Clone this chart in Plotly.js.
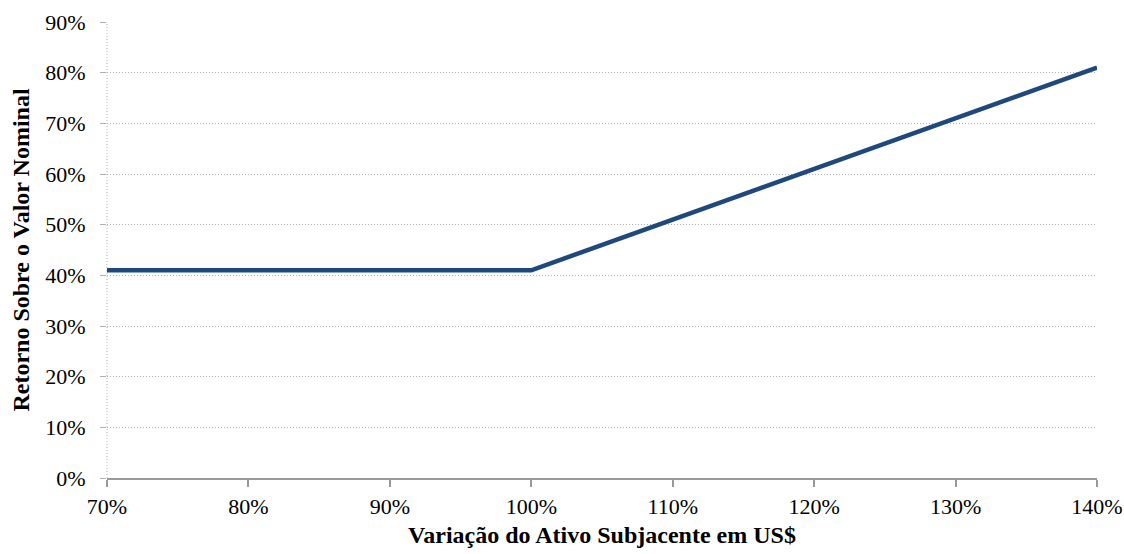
<!DOCTYPE html>
<html>
<head>
<meta charset="utf-8">
<script src="https://cdn.plot.ly/plotly-3.0.1.min.js"></script>
<style>html,body{margin:0;padding:0;background:#fff;}#chart{width:1124px;height:554px;}</style>
</head>
<body>
<div id="chart"></div>
<script>
const underlying = [0.70, 0.80, 0.90, 1.00, 1.10, 1.20, 1.30, 1.40];
const returns = [0.41, 0.41, 0.41, 0.41, 0.51, 0.61, 0.71, 0.81];
const xTitle = "Variação do Ativo Subjacente em US$";
const yTitle = "Retorno Sobre o Valor Nominal";

const font = "Liberation Serif, Times New Roman, serif";
Plotly.newPlot('chart', [{
  x: underlying, y: returns, type: 'scatter', mode: 'lines',
  line: {color: '#1F497D', width: 4.5},
  hoverinfo: 'skip'
}], {
  width: 1124, height: 554,
  margin: {l: 107, r: 27, t: 22, b: 76},
  paper_bgcolor: '#fff', plot_bgcolor: '#fff',
  showlegend: false,
  font: {family: font, color: '#000', size: 22},
  xaxis: {
    range: [0.70, 1.40], dtick: 0.10, tick0: 0.70, tickformat: '.0%',
    showgrid: false, zeroline: false,
    showline: true, linecolor: '#999', linewidth: 2,
    ticks: 'outside', ticklen: 7, tickwidth: 2, tickcolor: '#999',
    tickfont: {family: font, size: 22, color: '#000'},
    ticklabelstandoff: 1,
    title: {text: xTitle, font: {family: font, size: 24, color: '#000', weight: 'bold'}, standoff: 8}
  },
  yaxis: {
    range: [0, 0.90], dtick: 0.10, tickformat: '.0%',
    showgrid: true, gridcolor: '#b0b0b0', griddash: '1px,2px', gridwidth: 1,
    zeroline: false,
    showline: false,
    ticks: 'outside', ticklen: 6, tickcolor: '#b0b0b0', tickwidth: 1,
    tickfont: {family: font, size: 22, color: '#000'},
    ticklabelstandoff: 10,
    title: {text: yTitle, font: {family: font, size: 24, color: '#000', weight: 'bold'}, standoff: 8}
  },
  shapes: [{type: 'line', xref: 'paper', yref: 'paper', x0: 0, x1: 0, y0: 0, y1: 1,
    line: {color: '#b0b0b0', width: 1, dash: '1px,2px'}, layer: 'below'}]
}, {staticPlot: true, displayModeBar: false});
</script>
</body>
</html>
